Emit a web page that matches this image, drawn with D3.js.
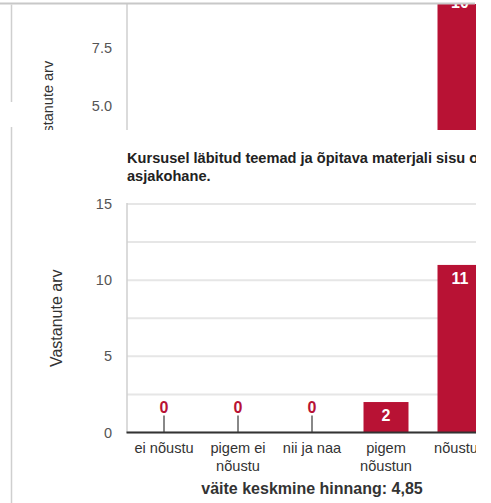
<!DOCTYPE html>
<html>
<head>
<meta charset="utf-8">
<script src="https://cdn.jsdelivr.net/npm/d3@7/dist/d3.min.js"></script>
<style>
  html, body { margin: 0; padding: 0; background: #fff; }
  svg { display: block; font-family: "Liberation Sans", Arial, sans-serif; }
</style>
</head>
<body>
<svg id="chart" width="491" height="503"></svg>
<script>
// ---- data ----
const categories = ["ei nõustu", "pigem ei nõustu", "nii ja naa", "pigem nõustun", "nõustun"];
const topValues = [0, 0, 0, 3, 10];
const bottomValues = [0, 0, 0, 2, 11];
const topTicks = [5.0, 7.5];
const bottomTicks = [0, 5, 10, 15];
const bottomGrid = [0, 2.5, 5, 7.5, 10, 12.5, 15];
const yTitle = "Vastanute arv";
const titleLines = ["Kursusel läbitud teemad ja õpitava materjali sisu oli", "asjakohane."];
const footer = "väite keskmine hinnang: 4,85";

// ---- layout ----
const svg = d3.select("#chart");
const RED = "#b81234";
const axisX = 127, clipRight = 476;

const defs = svg.append("defs");
defs.append("clipPath").attr("id", "clipTop")
  .append("rect").attr("x", 0).attr("y", 4).attr("width", clipRight).attr("height", 126);
defs.append("clipPath").attr("id", "clipBottom")
  .append("rect").attr("x", 0).attr("y", 135).attr("width", clipRight).attr("height", 368);

const x = d3.scaleBand().domain(categories)
  .range([axisX, axisX + 74 * categories.length])
  .paddingInner(0.392).paddingOuter(0.196);

// ---------- top (cut-off) chart ----------
const yTop = d3.scaleLinear().domain([0, 10]).range([223, -11]);
const gTop = svg.append("g").attr("clip-path", "url(#clipTop)");

gTop.append("line").attr("x1", axisX).attr("x2", axisX).attr("y1", 0).attr("y2", 130)
  .attr("stroke", "#cfcfcf").attr("stroke-width", 1.5);

const yAxisTop = d3.axisLeft(yTop).tickValues(topTicks).tickSize(0).tickPadding(15).tickFormat(d3.format(".1f"));
const gyt = gTop.append("g").attr("transform", `translate(${axisX},0)`).call(yAxisTop);
gyt.select(".domain").remove();
gyt.selectAll("text").attr("font-size", 14.5).attr("fill", "#555").attr("font-family", "Liberation Sans, Arial, sans-serif");

gTop.append("text").attr("transform", `translate(53,105) rotate(-90)`)
  .attr("text-anchor", "middle").attr("font-size", 14.5).attr("fill", "#333").text(yTitle);

categories.forEach((c, i) => {
  const v = topValues[i];
  if (v > 0) {
    gTop.append("rect").attr("x", x(c)).attr("y", yTop(v)).attr("width", x.bandwidth())
      .attr("height", yTop(0) - yTop(v)).attr("fill", RED);
    gTop.append("text").attr("x", x(c) + x.bandwidth() / 2).attr("y", yTop(v) + 19)
      .attr("text-anchor", "middle").attr("font-size", 16).attr("font-weight", "bold")
      .attr("fill", "#fff").text(v);
  }
});

// frame lines
svg.append("line").attr("x1", 0).attr("x2", 475).attr("y1", 3.5).attr("y2", 3.5)
  .attr("stroke", "#c8c8c8").attr("stroke-width", 2);
svg.append("line").attr("x1", 11.5).attr("x2", 11.5).attr("y1", 4.5).attr("y2", 102)
  .attr("stroke", "#cfcfcf").attr("stroke-width", 1.5);
svg.append("line").attr("x1", 11.5).attr("x2", 11.5).attr("y1", 127).attr("y2", 503)
  .attr("stroke", "#cfcfcf").attr("stroke-width", 1.5);

// ---------- bottom chart ----------
const y = d3.scaleLinear().domain([0, 15]).range([432.5, 204]);
const g = svg.append("g").attr("clip-path", "url(#clipBottom)");

// title
g.append("text").attr("x", 127).attr("y", 163).attr("font-size", 14.6).attr("font-weight", "bold")
  .attr("fill", "#222")
  .selectAll("tspan").data(titleLines).join("tspan")
  .attr("x", 127).attr("dy", (d, i) => i === 0 ? 0 : 18).text(d => d);

// grid
g.selectAll("line.grid").data(bottomGrid).join("line").attr("class", "grid")
  .attr("x1", axisX).attr("x2", clipRight).attr("y1", d => y(d)).attr("y2", d => y(d))
  .attr("stroke", "#e6e6e6").attr("stroke-width", 2);

g.append("line").attr("x1", axisX).attr("x2", axisX).attr("y1", y(15) - 1).attr("y2", y(0))
  .attr("stroke", "#cfcfcf").attr("stroke-width", 1.5);

const yAxis = d3.axisLeft(y).tickValues(bottomTicks).tickSize(0).tickPadding(15).tickFormat(d3.format("d"));
const gy = g.append("g").attr("transform", `translate(${axisX},0)`).call(yAxis);
gy.select(".domain").remove();
gy.selectAll("text").attr("font-size", 14.5).attr("fill", "#555").attr("font-family", "Liberation Sans, Arial, sans-serif");

g.append("text").attr("transform", `translate(61.5,${(y(0) + y(15)) / 2}) rotate(-90)`)
  .attr("text-anchor", "middle").attr("font-size", 16).attr("fill", "#333").text(yTitle);

// bars / zero markers
categories.forEach((c, i) => {
  const v = bottomValues[i];
  const cx = x(c) + x.bandwidth() / 2;
  if (v > 0) {
    g.append("rect").attr("x", x(c)).attr("y", y(v)).attr("width", x.bandwidth())
      .attr("height", y(0) - y(v)).attr("fill", RED);
    g.append("text").attr("x", cx).attr("y", y(v) + 19)
      .attr("text-anchor", "middle").attr("font-size", 16).attr("font-weight", "bold")
      .attr("fill", "#fff").text(v);
  } else {
    g.append("line").attr("x1", cx).attr("x2", cx).attr("y1", y(0) - 17).attr("y2", y(0))
      .attr("stroke", "#888").attr("stroke-width", 2);
    g.append("text").attr("x", cx).attr("y", y(0) - 19.5)
      .attr("text-anchor", "middle").attr("font-size", 16).attr("font-weight", "bold")
      .attr("fill", RED).text(v);
  }
});

// baseline
g.append("line").attr("x1", axisX - 0.5).attr("x2", clipRight).attr("y1", y(0)).attr("y2", y(0))
  .attr("stroke", "#333").attr("stroke-width", 2);

// x labels with wrapping
const xl = g.append("g");
categories.forEach(c => {
  const t = xl.append("text").attr("x", x(c) + x.bandwidth() / 2).attr("y", 453)
    .attr("text-anchor", "middle").attr("font-size", 14.6).attr("fill", "#333");
  const words = c.split(" ");
  let line = [];
  let tspan = t.append("tspan").attr("x", x(c) + x.bandwidth() / 2).attr("dy", 0);
  words.forEach(w => {
    line.push(w);
    tspan.text(line.join(" "));
    if (tspan.node().getComputedTextLength() > 72 && line.length > 1) {
      line.pop();
      tspan.text(line.join(" "));
      line = [w];
      tspan = t.append("tspan").attr("x", x(c) + x.bandwidth() / 2).attr("dy", 18).text(w);
    }
  });
});

// footer
g.append("text").attr("x", 312).attr("y", 494).attr("text-anchor", "middle")
  .attr("font-size", 16).attr("font-weight", "bold").attr("fill", "#333").text(footer);
</script>
</body>
</html>
